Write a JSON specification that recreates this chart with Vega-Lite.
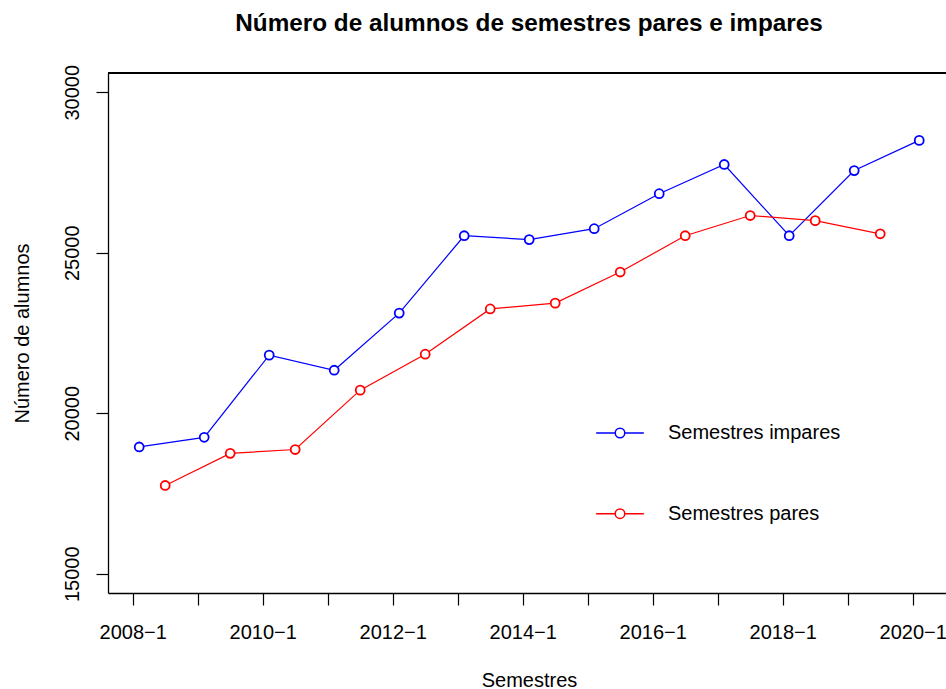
{
  "$schema": "https://vega.github.io/schema/vega-lite/v6.json",
  "autosize": "none",
  "width": 838,
  "height": 520,
  "padding": {"left": 108, "top": 73, "right": 0, "bottom": 96},
  "background": "white",
  "title": {
    "text": "Número de alumnos de semestres pares e impares",
    "font": "Liberation Sans",
    "fontSize": 24.3,
    "fontWeight": "bold",
    "color": "black",
    "anchor": "middle",
    "frame": "group",
    "baseline": "alphabetic",
    "offset": 9,
    "dx": 2
  },
  "config": {
    "view": {"stroke": null},
    "axis": {
      "labelFont": "Liberation Sans",
      "titleFont": "Liberation Sans",
      "labelFontSize": 20,
      "titleFontSize": 20,
      "titleFontWeight": "normal",
      "labelColor": "black",
      "titleColor": "black",
      "domainColor": "black",
      "domainWidth": 1.3,
      "tickColor": "black",
      "tickWidth": 1.2,
      "tickSize": 12,
      "grid": false
    }
  },
  "data": {
    "values": [
      {"semestre": 2008.1, "alumnos": 18950, "serie": "Semestres impares"},
      {"semestre": 2009.1, "alumnos": 19250, "serie": "Semestres impares"},
      {"semestre": 2010.1, "alumnos": 21810, "serie": "Semestres impares"},
      {"semestre": 2011.1, "alumnos": 21340, "serie": "Semestres impares"},
      {"semestre": 2012.1, "alumnos": 23120, "serie": "Semestres impares"},
      {"semestre": 2013.1, "alumnos": 25530, "serie": "Semestres impares"},
      {"semestre": 2014.1, "alumnos": 25410, "serie": "Semestres impares"},
      {"semestre": 2015.1, "alumnos": 25750, "serie": "Semestres impares"},
      {"semestre": 2016.1, "alumnos": 26840, "serie": "Semestres impares"},
      {"semestre": 2017.1, "alumnos": 27750, "serie": "Semestres impares"},
      {"semestre": 2018.1, "alumnos": 25530, "serie": "Semestres impares"},
      {"semestre": 2019.1, "alumnos": 27560, "serie": "Semestres impares"},
      {"semestre": 2020.1, "alumnos": 28500, "serie": "Semestres impares"},
      {"semestre": 2008.5, "alumnos": 17750, "serie": "Semestres pares"},
      {"semestre": 2009.5, "alumnos": 18750, "serie": "Semestres pares"},
      {"semestre": 2010.5, "alumnos": 18870, "serie": "Semestres pares"},
      {"semestre": 2011.5, "alumnos": 20720, "serie": "Semestres pares"},
      {"semestre": 2012.5, "alumnos": 21840, "serie": "Semestres pares"},
      {"semestre": 2013.5, "alumnos": 23250, "serie": "Semestres pares"},
      {"semestre": 2014.5, "alumnos": 23430, "serie": "Semestres pares"},
      {"semestre": 2015.5, "alumnos": 24400, "serie": "Semestres pares"},
      {"semestre": 2016.5, "alumnos": 25530, "serie": "Semestres pares"},
      {"semestre": 2017.5, "alumnos": 26160, "serie": "Semestres pares"},
      {"semestre": 2018.5, "alumnos": 26000, "serie": "Semestres pares"},
      {"semestre": 2019.5, "alumnos": 25590, "serie": "Semestres pares"}
    ]
  },
  "layer": [
    {
      "mark": {"type": "rule", "color": "black", "strokeWidth": 1.3},
      "encoding": {"y": {"datum": 30600}}
    },
    {
      "mark": {"type": "line", "strokeWidth": 1.2},
      "encoding": {
        "x": {
          "field": "semestre",
          "type": "quantitative",
          "title": "Semestres",
          "scale": {"domain": [2007.62, 2020.512], "nice": false, "zero": false},
          "axis": {
            "values": [2008, 2009, 2010, 2011, 2012, 2013, 2014, 2015, 2016, 2017, 2018, 2019, 2020],
            "labelExpr": "datum.value % 2 == 0 ? datum.value + '−1' : ''",
            "labelBaseline": "alphabetic",
            "labelPadding": 33,
            "labelFlush": false,
            "labelOverlap": false,
            "titleBaseline": "alphabetic",
            "titlePadding": 44,
            "titleX": 421
          }
        },
        "y": {
          "field": "alumnos",
          "type": "quantitative",
          "title": "Número de alumnos",
          "scale": {"domain": [14400, 30600], "nice": false, "zero": false},
          "axis": {
            "values": [15000, 20000, 25000, 30000],
            "format": "d",
            "labelAngle": -90,
            "labelAlign": "center",
            "labelBaseline": "alphabetic",
            "labelPadding": 18,
            "labelFlush": false,
            "labelOverlap": false,
            "titleBaseline": "alphabetic",
            "titlePadding": 34
          }
        },
        "color": {
          "field": "serie",
          "type": "nominal",
          "scale": {"domain": ["Semestres impares", "Semestres pares"], "range": ["#0000FF", "#FF0000"]},
          "legend": {
            "title": null,
            "orient": "none",
            "legendX": 487,
            "legendY": 335,
            "padding": 0,
            "symbolType": "M-1,0L-0.2,0M0.2,0L1,0M-0.2,0A0.2,0.2,0,1,1,0.2,0A0.2,0.2,0,1,1,-0.2,0",
            "symbolSize": 2275,
            "symbolStrokeWidth": 1.5,
            "symbolFillColor": "transparent",
            "labelFont": "Liberation Sans",
            "labelFontSize": 20,
            "labelColor": "black",
            "labelOffset": 23,
            "rowPadding": 45.7,
            "labelLimit": 400
          }
        }
      }
    },
    {
      "mark": {"type": "point", "shape": "circle", "filled": false, "fill": "white", "fillOpacity": 1, "size": 80, "strokeWidth": 1.8, "opacity": 1},
      "encoding": {
        "x": {"field": "semestre", "type": "quantitative"},
        "y": {"field": "alumnos", "type": "quantitative"},
        "color": {"field": "serie", "type": "nominal"}
      }
    }
  ]
}
